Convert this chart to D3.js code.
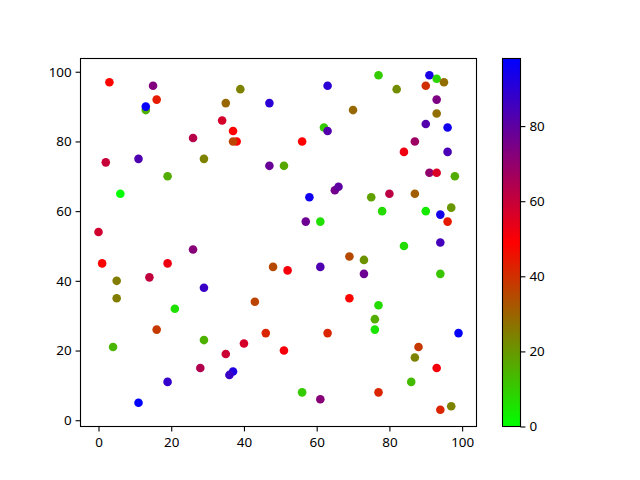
<!DOCTYPE html>
<html><head><meta charset="utf-8">
<script src="https://cdn.jsdelivr.net/npm/d3@7"></script>
<style>body{margin:0;background:#fff}svg{display:block}text{font-family:"Noto Sans",sans-serif;font-size:13.4px;fill:#000}</style>
</head><body><svg id="c" width="640" height="480"></svg>
<script>
const xs = [3,15,16,13,13,34,26,2,11,29,19,39,35,47,63,38,37,37,56,62,63,47,51,77,91,93,95,90,82,70,93,93,90,96,87,84,96,91,93,98,6,0,26,1,19,14,5,5,29,65,66,58,57,61,48,52,61,69,43,69,75,80,87,97,78,90,94,96,84,94,73,73,94,77,21,16,29,4,28,19,11,46,63,40,35,51,37,36,56,61,76,76,99,88,87,93,86,77,94,97];
const ys = [97,96,92,89,90,86,81,74,75,75,70,95,91,91,96,80,83,80,80,84,83,73,73,99,99,98,97,96,95,89,92,88,85,84,80,77,77,71,71,70,65,54,49,45,45,41,40,35,38,66,67,64,57,57,44,43,44,47,34,35,64,65,65,61,60,60,59,57,50,51,46,42,42,33,32,26,23,21,15,11,5,25,25,22,19,20,14,13,8,6,29,26,25,21,18,15,11,8,3,4];
const cs = [48,73,44,15,97,57,63,60,83,24,16,24,29,90,90,49,49,36,49,10,82,78,17,10,93,8,28,40,22,29,74,28,82,95,68,52,84,70,56,16,0,58,72,48,52,61,25,25,87,76,80,95,77,6,35,51,83,35,36,48,18,62,31,20,7,4,94,44,7,85,21,77,11,7,6,38,15,14,64,88,98,42,42,57,59,51,92,87,10,72,16,5,97,38,24,51,13,42,42,24];
const xTicks = [0,20,40,60,80,100];
const yTicks = [0,20,40,60,80,100];
const cTicks = [0,20,40,60,80];

const svg = d3.select("#c");
const L=80.5, R=476.5, T=58.5, B=426.5;
const xmin=d3.min(xs), xmax=d3.max(xs), ymin=d3.min(ys), ymax=d3.max(ys);
const xm=(xmax-xmin)*0.05, ym=(ymax-ymin)*0.05;
const x = d3.scaleLinear().domain([xmin-xm, xmax+xm]).range([L,R]);
const y = d3.scaleLinear().domain([ymin-ym, ymax+ym]).range([B,T]);
const cmin=d3.min(cs), cmax=d3.max(cs);
const color = d3.scaleLinear().domain([cmin,(cmin+cmax)/2,cmax]).range(["#00ff00","#ff0000","#0000ff"]);

const g = svg.append("g");
g.selectAll("circle").data(xs.map((v,i)=>({x:v,y:ys[i],c:cs[i]}))).enter().append("circle")
 .attr("cx",d=>x(d.x)).attr("cy",d=>y(d.y)).attr("r",4.3).attr("fill",d=>color(d.c));

const xa = svg.append("g").attr("transform",`translate(0,${B})`).call(d3.axisBottom(x).tickValues(xTicks).tickSize(4.9).tickPadding(4));
const ya = svg.append("g").attr("transform",`translate(${L},0)`).call(d3.axisLeft(y).tickValues(yTicks).tickSize(4.9).tickPadding(4));
[xa,ya].forEach(a=>{a.select(".domain").remove();a.selectAll("line").attr("stroke","#000").attr("stroke-width",1.1);a.selectAll("text").attr("font-size",null).attr("font-family",null);});
xa.selectAll("text").attr("dy","0.85em");
svg.append("rect").attr("x",L).attr("y",T).attr("width",R-L).attr("height",B-T).attr("fill","none").attr("stroke","#000").attr("stroke-width",1.1);

// colorbar
const CL=502.5, CR=520.5;
const cy = d3.scaleLinear().domain([cmin,cmax]).range([B,T]);
const grad = svg.append("defs").append("linearGradient").attr("id","cg").attr("x1",0).attr("y1",1).attr("x2",0).attr("y2",0);
grad.append("stop").attr("offset","0%").attr("stop-color",color(cmin));
grad.append("stop").attr("offset","50%").attr("stop-color",color((cmin+cmax)/2));
grad.append("stop").attr("offset","100%").attr("stop-color",color(cmax));
svg.append("rect").attr("x",CL).attr("y",T).attr("width",CR-CL).attr("height",B-T).attr("fill","url(#cg)").attr("stroke","#000").attr("stroke-width",1.1);
const ca = svg.append("g").attr("transform",`translate(${CR},0)`).call(d3.axisRight(cy).tickValues(cTicks).tickSize(4.9).tickPadding(4));
ca.select(".domain").remove();
ca.selectAll("line").attr("stroke","#000").attr("stroke-width",1.1);
ca.selectAll("text").attr("font-size",null).attr("font-family",null);
</script></body></html>
